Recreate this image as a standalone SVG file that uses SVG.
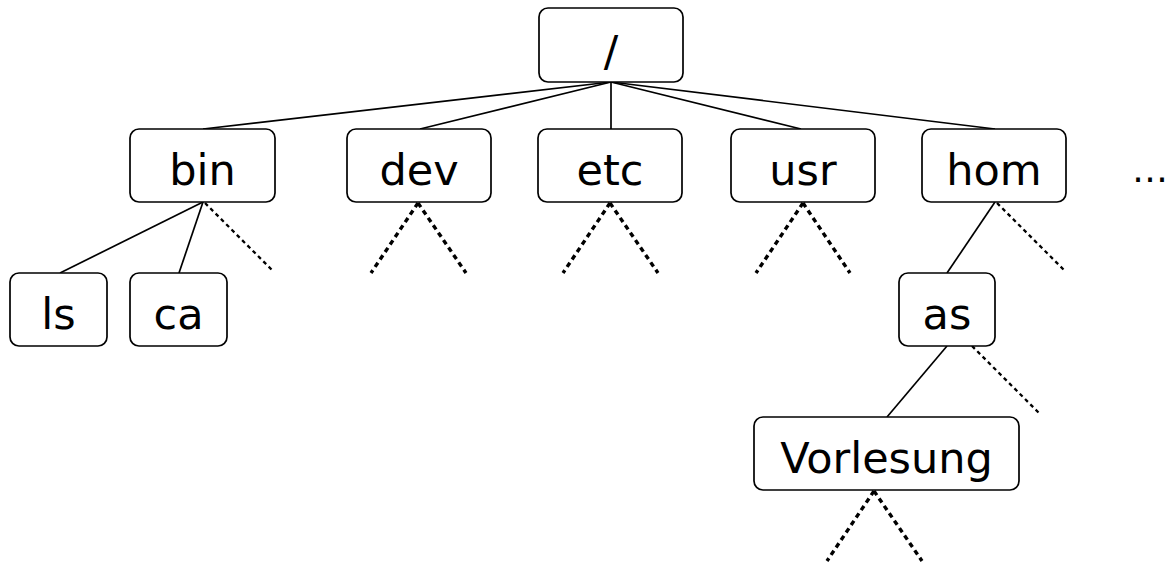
<svg xmlns="http://www.w3.org/2000/svg" width="1169" height="565" viewBox="0 0 1169 565">
  <style>
    .box { fill: #ffffff; stroke: #000000; stroke-width: 1.7; }
    .lbl { font-family: "DejaVu Sans", Verdana, sans-serif; font-size: 43px; fill: #000000; text-anchor: middle; }
    .edge { stroke: #000000; stroke-width: 1.7; fill: none; }
    .more { stroke: #000000; stroke-width: 3.4; fill: none; stroke-dasharray: 5 4; }
    .more-thin { stroke: #000000; stroke-width: 2.3; fill: none; stroke-dasharray: 4 3.5; }
  </style>
  <rect width="1169" height="565" fill="#ffffff"/>

  <!-- connectors -->
  <g id="connectors">
    <line class="edge" x1="611" y1="82" x2="203" y2="129"/>
    <line class="edge" x1="611" y1="82" x2="420" y2="129"/>
    <line class="edge" x1="611" y1="82" x2="611" y2="129"/>
    <line class="edge" x1="611" y1="82" x2="801" y2="129"/>
    <line class="edge" x1="611" y1="82" x2="995" y2="129"/>
    <line class="edge" x1="203" y1="202" x2="60" y2="273"/>
    <line class="edge" x1="203" y1="202" x2="179" y2="273"/>
    <line class="edge" x1="995" y1="202" x2="947" y2="273"/>
    <line class="edge" x1="947" y1="346" x2="887" y2="417"/>
    <!-- further entries not shown -->
    <line class="more-thin" x1="205" y1="203" x2="272" y2="270"/>
    <line class="more" x1="418" y1="203" x2="371" y2="273"/>
    <line class="more" x1="418" y1="203" x2="466" y2="273"/>
    <line class="more" x1="610" y1="203" x2="563" y2="273"/>
    <line class="more" x1="610" y1="203" x2="658" y2="273"/>
    <line class="more" x1="803" y1="203" x2="756" y2="273"/>
    <line class="more" x1="803" y1="203" x2="850" y2="273"/>
    <line class="more-thin" x1="997" y1="203" x2="1064" y2="270"/>
    <line class="more-thin" x1="972" y1="346" x2="1040" y2="414"/>
    <line class="more" x1="874" y1="491" x2="827" y2="561"/>
    <line class="more" x1="874" y1="491" x2="922" y2="561"/>
  </g>

  <g id="root">
    <rect class="box" x="539" y="8" width="144" height="74" rx="9"/>
    <text class="lbl" x="611" y="66">/</text>
  </g>
  <g id="bin">
    <rect class="box" x="130" y="129" width="145" height="73" rx="9"/>
    <text class="lbl" x="202.5" y="185">bin</text>
  </g>
  <g id="dev">
    <rect class="box" x="347" y="129" width="144" height="73" rx="9"/>
    <text class="lbl" x="419" y="185">dev</text>
  </g>
  <g id="etc">
    <rect class="box" x="538" y="129" width="144" height="73" rx="9"/>
    <text class="lbl" x="610" y="185">etc</text>
  </g>
  <g id="usr">
    <rect class="box" x="731" y="129" width="144" height="73" rx="9"/>
    <text class="lbl" x="803" y="185">usr</text>
  </g>
  <g id="hom">
    <rect class="box" x="922" y="129" width="144" height="73" rx="9"/>
    <text class="lbl" x="994" y="185">hom</text>
  </g>
  <g id="ellipsis">
    <text class="lbl" x="1150" y="182" style="font-size:36px">…</text>
  </g>
  <g id="ls">
    <rect class="box" x="10" y="273" width="97" height="73" rx="9"/>
    <text class="lbl" x="58.5" y="329">ls</text>
  </g>
  <g id="ca">
    <rect class="box" x="130" y="273" width="97" height="73" rx="9"/>
    <text class="lbl" x="178.5" y="329">ca</text>
  </g>
  <g id="as">
    <rect class="box" x="899" y="273" width="96" height="73" rx="9"/>
    <text class="lbl" x="947" y="329">as</text>
  </g>
  <g id="vorlesung">
    <rect class="box" x="754" y="417" width="265" height="73" rx="9"/>
    <text class="lbl" x="886.5" y="473">Vorlesung</text>
  </g>
</svg>
